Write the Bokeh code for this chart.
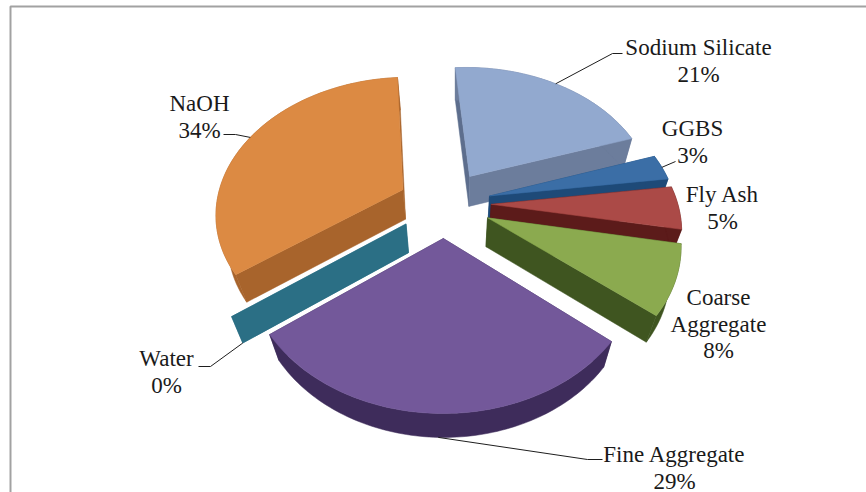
import numpy as np
from bokeh.plotting import figure
from bokeh.models import Range1d
from bokeh.core.properties import value
from bokeh.embed import file_html
from bokeh.resources import INLINE

# ---- data (clockwise order, as in the source pie) ----
labels = ["Sodium Silicate", "GGBS", "Fly Ash", "Coarse\nAggregate", "Fine Aggregate", "Water", "NaOH"]
percents = [21, 3, 5, 8, 29, 0, 34]
top_colors = ["#92A9CF", "#3B6EA6", "#AB4A47", "#8BAA4F", "#73589A", "#2B6F85", "#DC8A43"]
side_colors = ["#6C7D9C", "#1E4A78", "#5C1B1A", "#3F5520", "#3E2C5B", "#2B6F85", "#A8642C"]
cut_colors = ["#5D6E8D", "#1E4A78", "#5C1B1A", "#3F5520", "#3E2C5B", "#2B6F85", "#A8642C"]
# painter's order: far slices first
draw_order = [6, 0, 1, 2, 5, 3, 4]
label_xy = [(698, 47), (692, 128), (722, 194), (718, 297), (674, 454), (166, 358), (199, 103)]
leader_elbow = [[(612, 53), (622, 53)], [(675, 161)], [], [], [(587, 459), (602, 459)],
                [(210, 366), (198, 366)], [(235, 134), (223, 134)]]

# ---- projection of the tilted pie ----
CX, CY, RX, RY, PERSP = 444.0, 203.0, 186.5, 134.4, 0.16
EXPLODE = 0.25
START_DEG = -4.0
DROP_F, DROP_X, DROP_FY, DROP_Y = 0.95, 455.0, 0.975, 34.3


def project(a, b):
    w = 1 + PERSP * b
    return CX + RX * a / w, CY - RY * b / w


def lower(x, y):
    return DROP_X + (np.asarray(x) - DROP_X) * DROP_F, DROP_FY * np.asarray(y) + DROP_Y


p = figure(width=866, height=492, x_range=Range1d(0, 866), y_range=Range1d(492, 0),
           x_axis_type=None, y_axis_type=None, toolbar_location=None, output_backend="svg",
           min_border=0, outline_line_color=None, background_fill_color="white",
           margin=(0, 0, 0, 0))
p.grid.visible = False

# frame
p.line([866, 10, 10], [6, 6, 492], line_color="#A2A2A2", line_width=2)

cum = np.concatenate([[0], np.cumsum(percents)]) / sum(percents)
starts = np.radians(START_DEG + 360 * cum[:-1])
ends = np.radians(START_DEG + 360 * cum[1:])
mids = (starts + ends) / 2


def slice_outline(i):
    ax, ay = EXPLODE * np.sin(mids[i]), EXPLODE * np.cos(mids[i])
    t = np.linspace(starts[i], ends[i], max(2, int(percents[i] * 3) + 2))
    rx, ry = project(ax + np.sin(t), ay + np.cos(t))
    apx, apy = project(ax, ay)
    return apx, apy, rx, ry


for i in draw_order:
    apx, apy, rx, ry = slice_outline(i)
    lapx, lapy = lower(apx, apy)
    lrx, lry = lower(rx, ry)
    # cut walls: start edge, then end edge
    for k, col in ((0, cut_colors[i]), (-1, side_colors[i])):
        p.patch([apx, rx[k], lrx[k], lapx], [apy, ry[k], lry[k], lapy],
                fill_color=col, line_color=col, line_width=0.5)
    if percents[i] > 0:
        # rim wall
        p.patch(np.r_[rx, lrx[::-1]], np.r_[ry, lry[::-1]],
                fill_color=side_colors[i], line_color=side_colors[i], line_width=0.5)
        # top face
        p.patch(np.r_[apx, rx], np.r_[apy, ry], fill_color=top_colors[i],
                line_color=top_colors[i], line_width=0.5)

# leaders
for i, elbow in enumerate(leader_elbow):
    if not elbow:
        continue
    apx, apy, rx, ry = slice_outline(i)
    n = len(rx) // 2
    if i == 5:
        sx, sy = lower(rx[0], ry[0])
    elif i == 4:
        sx, sy = lower(rx[n], ry[n])
    else:
        sx, sy = rx[n], ry[n]
    p.line([sx] + [e[0] for e in elbow], [sy] + [e[1] for e in elbow], line_color="#1E1E1E", line_width=1)

# labels
for i, (x, y) in enumerate(label_xy):
    lines = labels[i].split("\n") + [f"{percents[i]}%"]
    ys = [y + 26.5 * k for k in range(len(lines))]
    p.text([x] * len(lines), ys, text=lines, text_font=value("Liberation Serif"),
           text_font_size="23px", text_color="#1A1A1A", text_align="center", text_baseline="middle")

open("out.html", "w").write(file_html(p, INLINE))
